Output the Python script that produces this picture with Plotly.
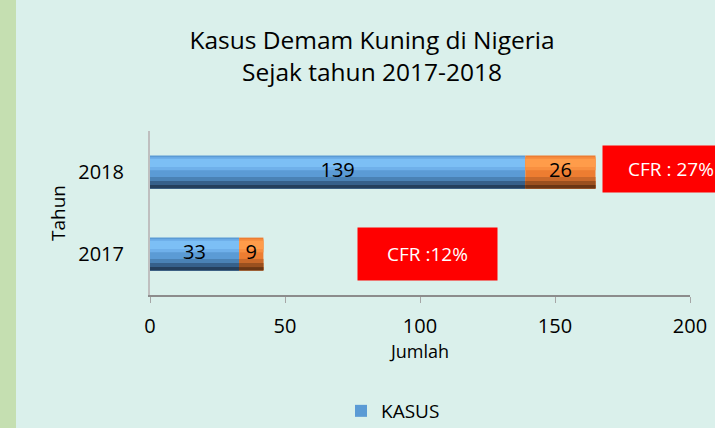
import plotly.graph_objects as go

# ---- data ----
years = ["2017", "2018"]
kasus = [33, 139]
meninggal = [9, 26]
cfr_labels = ["CFR :12%", "CFR : 27%"]
cfr_x = [76.7, 167.4]  # left edge of the CFR boxes (in axis units)

title_text = "Kasus Demam Kuning di Nigeria<br>Sejak tahun 2017-2018"
x_ticks = [0, 50, 100, 150, 200]

FONT = "Open Sans"

# gradient bands (offset from centre, width, colour) drawn on top of each bar
blue_bands = [
    (-0.20, 0.40, "#5B9BD5"),
    (0.02, 0.16, "#6FB0EA"),
    (0.06, 0.10, "#7CBFF5"),
    (-0.20, 0.14, "#4A82B5"),
    (-0.20, 0.09, "#36608A"),
    (-0.20, 0.04, "#243F5C"),
]
orange_bands = [
    (-0.20, 0.40, "#ED7D31"),
    (0.02, 0.16, "#F88F40"),
    (0.06, 0.10, "#FF9C4A"),
    (-0.20, 0.14, "#C9692A"),
    (-0.20, 0.09, "#9A501F"),
    (-0.20, 0.04, "#6A3614"),
]

fig = go.Figure()

base_blue = [0 for _ in kasus]
for i, (off, w, col) in enumerate(blue_bands):
    fig.add_trace(go.Bar(
        y=years, x=kasus, base=base_blue, orientation="h",
        offset=off, width=w,
        marker=dict(color=col, line=dict(width=0)),
        name="KASUS", showlegend=(i == 0), legendgroup="k",
        hoverinfo="skip" if i else None,
    ))
for i, (off, w, col) in enumerate(orange_bands):
    fig.add_trace(go.Bar(
        y=years, x=meninggal, base=kasus, orientation="h",
        offset=off, width=w,
        marker=dict(color=col, line=dict(width=0)),
        name="MENINGGAL", showlegend=False,
        hoverinfo="skip" if i else None,
    ))

# value labels
fig.add_trace(go.Scatter(
    y=years, x=[k / 2 for k in kasus], mode="text",
    text=[str(v) for v in kasus], textposition="middle center",
    textfont=dict(size=20, color="#000000", family=FONT),
    showlegend=False, hoverinfo="skip",
))
fig.add_trace(go.Scatter(
    y=years, x=[k + m / 2 for k, m in zip(kasus, meninggal)], mode="text",
    text=[str(v) for v in meninggal], textposition="middle center",
    textfont=dict(size=20, color="#000000", family=FONT),
    showlegend=False, hoverinfo="skip",
))

annotations = []
box_w = [139, 136]
box_h = [52, 46]
box_dy = [0, 3]
for idx, (lab, x0, bw, bh, dy) in enumerate(zip(cfr_labels, cfr_x, box_w, box_h, box_dy)):
    annotations.append(dict(
        x=x0, y=idx, xref="x", yref="y", xanchor="left", yanchor="middle",
        yshift=dy,
        text=lab, showarrow=False, bgcolor="#FF0000",
        width=bw, height=bh, align="center", valign="middle", borderpad=0,
        font=dict(size=19, color="#FFFFFF", family=FONT),
    ))

fig.update_layout(
    width=715, height=428,
    margin=dict(l=150, r=25, t=131, b=133, autoexpand=False),
    paper_bgcolor="#DAF0EB", plot_bgcolor="#DAF0EB",
    barmode="overlay",
    font=dict(family=FONT, color="#000000"),
    title=dict(text=title_text, x=372 / 715, xanchor="center", y=0.885, yanchor="top",
               font=dict(size=24.5, family=FONT, color="#000000")),
    xaxis=dict(range=[0, 200], tickvals=x_ticks, ticktext=[str(t) for t in x_ticks],
               showgrid=False, zeroline=False, showline=True, linecolor="#8C8C8C",
               linewidth=2, ticks="outside", ticklen=6, tickcolor="#A6A6A6",
               ticklabelstandoff=6,
               tickfont=dict(size=20, family=FONT), automargin=False,
               title=dict(text="Jumlah", font=dict(size=18, family=FONT), standoff=6)),
    yaxis=dict(type="category", range=[-0.5, 1.5], showgrid=False, zeroline=False,
               showline=True, linecolor="#BFBFBF", linewidth=2, ticks="",
               ticklabelstandoff=20, automargin=False,
               tickfont=dict(size=20, family=FONT),
               title=dict(text="Tahun", font=dict(size=19, family=FONT), standoff=8)),
    legend=dict(orientation="h", x=0.45, xanchor="center",
                yref="container", y=1 - 411 / 428, yanchor="middle",
                font=dict(size=19, family=FONT), bgcolor="rgba(0,0,0,0)",
                itemsizing="constant"),
    annotations=annotations,
    shapes=[dict(type="rect", xref="paper", yref="paper",
                 x0=-150 / 540, x1=-134 / 540, y0=-2, y1=3,
                 fillcolor="#C5DFB1", line=dict(width=0), layer="below")],
)

fig.write_html("out.html", config={"displayModeBar": False},
               post_script="document.body.style.margin='0';document.body.style.overflow='hidden';")
